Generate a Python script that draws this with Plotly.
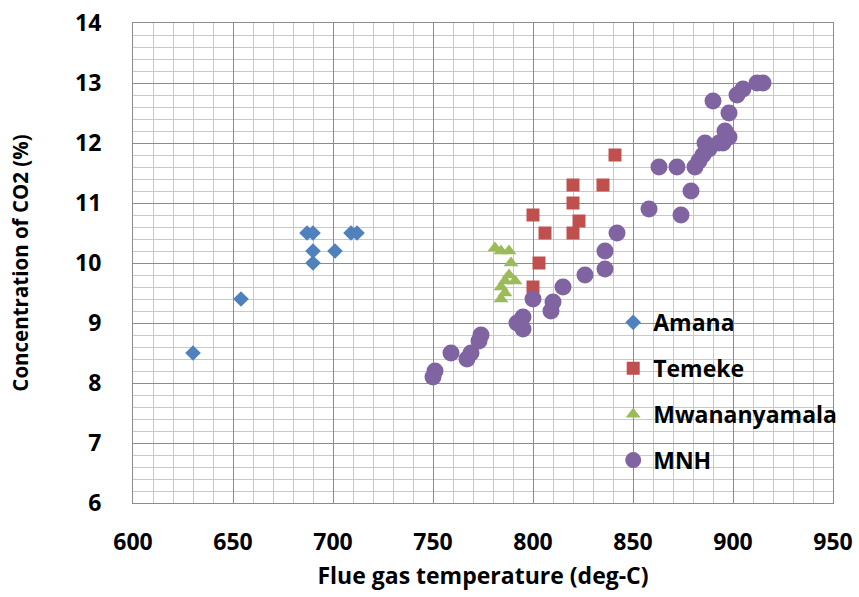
import plotly.graph_objects as go

amana_x = [630, 654, 687, 690, 690, 690, 701, 709, 712]
amana_y = [8.5, 9.4, 10.5, 10.5, 10.2, 10.0, 10.2, 10.5, 10.5]

temeke_x = [800, 806, 803, 800, 820, 820, 823, 820, 835, 841]
temeke_y = [10.8, 10.5, 10.0, 9.6, 11.3, 11.0, 10.7, 10.5, 11.3, 11.8]

mwana_x = [781, 784, 788, 789, 788, 786, 791, 784, 786, 784]
mwana_y = [10.25, 10.2, 10.2, 10.0, 9.8, 9.7, 9.7, 9.6, 9.5, 9.4]

mnh_x = [750, 751, 759, 767, 769, 773, 774, 792, 795, 795, 800, 809, 810, 815, 826,
         836, 836, 842, 858, 874, 879, 863, 872, 881, 883, 885, 886, 893, 896, 898,
         898, 890, 902, 905, 912, 915, 888, 895]
mnh_y = [8.1, 8.2, 8.5, 8.4, 8.5, 8.7, 8.8, 9.0, 8.9, 9.1, 9.4, 9.2, 9.35, 9.6, 9.8,
         9.9, 10.2, 10.5, 10.9, 10.8, 11.2, 11.6, 11.6, 11.6, 11.7, 11.8, 12.0, 12.0, 12.2, 12.1,
         12.5, 12.7, 12.8, 12.9, 13.0, 13.0, 11.9, 12.0]

FONT = "Open Sans"
fig = go.Figure()
fig.add_trace(go.Scatter(x=amana_x, y=amana_y, mode="markers", name="Amana", legendgroup="a",
                         marker=dict(symbol="diamond", size=12, color="#4F81BD")))
fig.add_trace(go.Scatter(x=temeke_x, y=temeke_y, mode="markers", name="Temeke", legendgroup="b",
                         marker=dict(symbol="square", size=13, color="#C0504D")))
fig.add_trace(go.Scatter(x=mwana_x, y=mwana_y, mode="markers", name="Mwananyamala", legendgroup="c",
                         marker=dict(symbol="triangle-up", size=13, color="#9BBB59")))
fig.add_trace(go.Scatter(x=mnh_x, y=mnh_y, mode="markers", name="MNH", legendgroup="d",
                         marker=dict(symbol="circle", size=17, color="#8064A2")))

axis_common = dict(
    showgrid=True, gridcolor="#8c8c8c", gridwidth=1,
    showline=True, linecolor="#8c8c8c", linewidth=1, mirror=True,
    zeroline=False, ticks="", automargin=False,
    tickfont=dict(family=FONT, size=23, color="black", weight="bold"),
)
fig.update_xaxes(range=[600, 950], dtick=50, tick0=600,
                 minor=dict(dtick=10, showgrid=True, gridcolor="#c8c8c8", gridwidth=1),
                 ticklabelstandoff=18,
                 title=dict(text="Flue gas temperature (deg-C)", standoff=12,
                            font=dict(family=FONT, size=23, color="black", weight="bold")),
                 **axis_common)
fig.update_yaxes(range=[6, 14], dtick=1, tick0=6,
                 minor=dict(dtick=0.2, showgrid=True, gridcolor="#c8c8c8", gridwidth=1),
                 ticklabelstandoff=26,
                 title=dict(text="Concentration of CO2 (%)", standoff=40,
                            font=dict(family=FONT, size=20.5, color="black", weight="bold")),
                 **axis_common)

fig.update_layout(
    width=859, height=597,
    margin=dict(l=133, r=26, t=23, b=94, autoexpand=False),
    paper_bgcolor="white", plot_bgcolor="white",
    showlegend=True,
    legend=dict(x=0.686, y=0.421, xanchor="left", yanchor="top",
                bgcolor="rgba(0,0,0,0)", traceorder="grouped", tracegroupgap=13,
                font=dict(family=FONT, size=23, color="black", weight="bold"),
                itemwidth=30),
)
fig.write_html("out.html")
